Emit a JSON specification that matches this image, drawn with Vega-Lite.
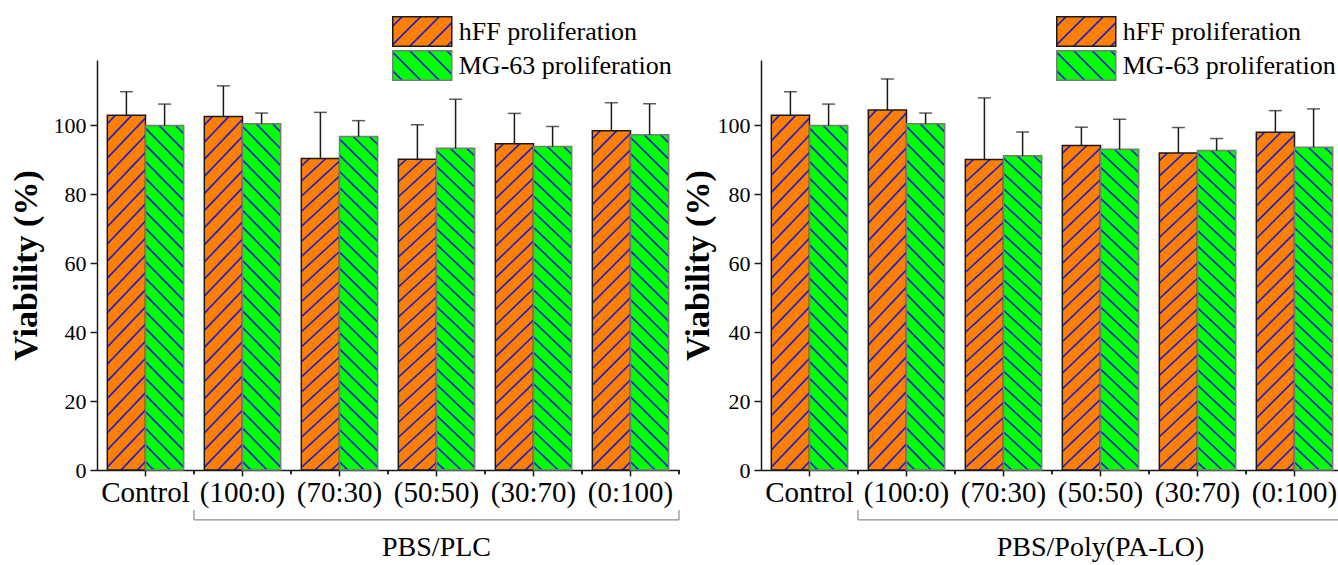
{
  "$schema": "https://vega.github.io/schema/vega-lite/v6.json",
  "padding": {"left": 9, "top": 16, "right": 0, "bottom": 0},
  "params": [
    {"name": "gH", "value": {"gradient": "linear", "x1": 0, "y1": 0, "x2": 0.124, "y2": 1.099, "stops": [
      {"offset": 0, "color": "#ff8000"},
      {"offset": 0.0167, "color": "#ff8000"}, {"offset": 0.0202, "color": "#2222cc"}, {"offset": 0.0232, "color": "#2222cc"}, {"offset": 0.0267, "color": "#ff8000"},
      {"offset": 0.0602, "color": "#ff8000"}, {"offset": 0.0637, "color": "#2222cc"}, {"offset": 0.0667, "color": "#2222cc"}, {"offset": 0.0702, "color": "#ff8000"},
      {"offset": 0.1037, "color": "#ff8000"}, {"offset": 0.1072, "color": "#2222cc"}, {"offset": 0.1102, "color": "#2222cc"}, {"offset": 0.1137, "color": "#ff8000"},
      {"offset": 0.1472, "color": "#ff8000"}, {"offset": 0.1507, "color": "#2222cc"}, {"offset": 0.1537, "color": "#2222cc"}, {"offset": 0.1572, "color": "#ff8000"},
      {"offset": 0.1907, "color": "#ff8000"}, {"offset": 0.1942, "color": "#2222cc"}, {"offset": 0.1972, "color": "#2222cc"}, {"offset": 0.2007, "color": "#ff8000"},
      {"offset": 0.2341, "color": "#ff8000"}, {"offset": 0.2376, "color": "#2222cc"}, {"offset": 0.2406, "color": "#2222cc"}, {"offset": 0.2441, "color": "#ff8000"},
      {"offset": 0.2776, "color": "#ff8000"}, {"offset": 0.2811, "color": "#2222cc"}, {"offset": 0.2841, "color": "#2222cc"}, {"offset": 0.2876, "color": "#ff8000"},
      {"offset": 0.3211, "color": "#ff8000"}, {"offset": 0.3246, "color": "#2222cc"}, {"offset": 0.3276, "color": "#2222cc"}, {"offset": 0.3311, "color": "#ff8000"},
      {"offset": 0.3646, "color": "#ff8000"}, {"offset": 0.3681, "color": "#2222cc"}, {"offset": 0.3711, "color": "#2222cc"}, {"offset": 0.3746, "color": "#ff8000"},
      {"offset": 0.4080, "color": "#ff8000"}, {"offset": 0.4115, "color": "#2222cc"}, {"offset": 0.4145, "color": "#2222cc"}, {"offset": 0.4180, "color": "#ff8000"},
      {"offset": 0.4515, "color": "#ff8000"}, {"offset": 0.4550, "color": "#2222cc"}, {"offset": 0.4580, "color": "#2222cc"}, {"offset": 0.4615, "color": "#ff8000"},
      {"offset": 0.4950, "color": "#ff8000"}, {"offset": 0.4985, "color": "#2222cc"}, {"offset": 0.5015, "color": "#2222cc"}, {"offset": 0.5050, "color": "#ff8000"},
      {"offset": 0.5385, "color": "#ff8000"}, {"offset": 0.5420, "color": "#2222cc"}, {"offset": 0.5450, "color": "#2222cc"}, {"offset": 0.5485, "color": "#ff8000"},
      {"offset": 0.5820, "color": "#ff8000"}, {"offset": 0.5855, "color": "#2222cc"}, {"offset": 0.5885, "color": "#2222cc"}, {"offset": 0.5920, "color": "#ff8000"},
      {"offset": 0.6254, "color": "#ff8000"}, {"offset": 0.6289, "color": "#2222cc"}, {"offset": 0.6319, "color": "#2222cc"}, {"offset": 0.6354, "color": "#ff8000"},
      {"offset": 0.6689, "color": "#ff8000"}, {"offset": 0.6724, "color": "#2222cc"}, {"offset": 0.6754, "color": "#2222cc"}, {"offset": 0.6789, "color": "#ff8000"},
      {"offset": 0.7124, "color": "#ff8000"}, {"offset": 0.7159, "color": "#2222cc"}, {"offset": 0.7189, "color": "#2222cc"}, {"offset": 0.7224, "color": "#ff8000"},
      {"offset": 0.7559, "color": "#ff8000"}, {"offset": 0.7594, "color": "#2222cc"}, {"offset": 0.7624, "color": "#2222cc"}, {"offset": 0.7659, "color": "#ff8000"},
      {"offset": 0.7993, "color": "#ff8000"}, {"offset": 0.8028, "color": "#2222cc"}, {"offset": 0.8058, "color": "#2222cc"}, {"offset": 0.8093, "color": "#ff8000"},
      {"offset": 0.8428, "color": "#ff8000"}, {"offset": 0.8463, "color": "#2222cc"}, {"offset": 0.8493, "color": "#2222cc"}, {"offset": 0.8528, "color": "#ff8000"},
      {"offset": 0.8863, "color": "#ff8000"}, {"offset": 0.8898, "color": "#2222cc"}, {"offset": 0.8928, "color": "#2222cc"}, {"offset": 0.8963, "color": "#ff8000"},
      {"offset": 0.9298, "color": "#ff8000"}, {"offset": 0.9333, "color": "#2222cc"}, {"offset": 0.9363, "color": "#2222cc"}, {"offset": 0.9398, "color": "#ff8000"},
      {"offset": 0.9733, "color": "#ff8000"}, {"offset": 0.9768, "color": "#2222cc"}, {"offset": 0.9798, "color": "#2222cc"}, {"offset": 0.9833, "color": "#ff8000"},
      {"offset": 1, "color": "#ff8000"}
    ]}},
    {"name": "gM", "value": {"gradient": "linear", "x1": 0, "y1": 1, "x2": 0.124, "y2": -0.099, "stops": [
      {"offset": 0, "color": "#00ff00"},
      {"offset": 0.0167, "color": "#00ff00"}, {"offset": 0.0202, "color": "#2222cc"}, {"offset": 0.0232, "color": "#2222cc"}, {"offset": 0.0267, "color": "#00ff00"},
      {"offset": 0.0602, "color": "#00ff00"}, {"offset": 0.0637, "color": "#2222cc"}, {"offset": 0.0667, "color": "#2222cc"}, {"offset": 0.0702, "color": "#00ff00"},
      {"offset": 0.1037, "color": "#00ff00"}, {"offset": 0.1072, "color": "#2222cc"}, {"offset": 0.1102, "color": "#2222cc"}, {"offset": 0.1137, "color": "#00ff00"},
      {"offset": 0.1472, "color": "#00ff00"}, {"offset": 0.1507, "color": "#2222cc"}, {"offset": 0.1537, "color": "#2222cc"}, {"offset": 0.1572, "color": "#00ff00"},
      {"offset": 0.1907, "color": "#00ff00"}, {"offset": 0.1942, "color": "#2222cc"}, {"offset": 0.1972, "color": "#2222cc"}, {"offset": 0.2007, "color": "#00ff00"},
      {"offset": 0.2341, "color": "#00ff00"}, {"offset": 0.2376, "color": "#2222cc"}, {"offset": 0.2406, "color": "#2222cc"}, {"offset": 0.2441, "color": "#00ff00"},
      {"offset": 0.2776, "color": "#00ff00"}, {"offset": 0.2811, "color": "#2222cc"}, {"offset": 0.2841, "color": "#2222cc"}, {"offset": 0.2876, "color": "#00ff00"},
      {"offset": 0.3211, "color": "#00ff00"}, {"offset": 0.3246, "color": "#2222cc"}, {"offset": 0.3276, "color": "#2222cc"}, {"offset": 0.3311, "color": "#00ff00"},
      {"offset": 0.3646, "color": "#00ff00"}, {"offset": 0.3681, "color": "#2222cc"}, {"offset": 0.3711, "color": "#2222cc"}, {"offset": 0.3746, "color": "#00ff00"},
      {"offset": 0.4080, "color": "#00ff00"}, {"offset": 0.4115, "color": "#2222cc"}, {"offset": 0.4145, "color": "#2222cc"}, {"offset": 0.4180, "color": "#00ff00"},
      {"offset": 0.4515, "color": "#00ff00"}, {"offset": 0.4550, "color": "#2222cc"}, {"offset": 0.4580, "color": "#2222cc"}, {"offset": 0.4615, "color": "#00ff00"},
      {"offset": 0.4950, "color": "#00ff00"}, {"offset": 0.4985, "color": "#2222cc"}, {"offset": 0.5015, "color": "#2222cc"}, {"offset": 0.5050, "color": "#00ff00"},
      {"offset": 0.5385, "color": "#00ff00"}, {"offset": 0.5420, "color": "#2222cc"}, {"offset": 0.5450, "color": "#2222cc"}, {"offset": 0.5485, "color": "#00ff00"},
      {"offset": 0.5820, "color": "#00ff00"}, {"offset": 0.5855, "color": "#2222cc"}, {"offset": 0.5885, "color": "#2222cc"}, {"offset": 0.5920, "color": "#00ff00"},
      {"offset": 0.6254, "color": "#00ff00"}, {"offset": 0.6289, "color": "#2222cc"}, {"offset": 0.6319, "color": "#2222cc"}, {"offset": 0.6354, "color": "#00ff00"},
      {"offset": 0.6689, "color": "#00ff00"}, {"offset": 0.6724, "color": "#2222cc"}, {"offset": 0.6754, "color": "#2222cc"}, {"offset": 0.6789, "color": "#00ff00"},
      {"offset": 0.7124, "color": "#00ff00"}, {"offset": 0.7159, "color": "#2222cc"}, {"offset": 0.7189, "color": "#2222cc"}, {"offset": 0.7224, "color": "#00ff00"},
      {"offset": 0.7559, "color": "#00ff00"}, {"offset": 0.7594, "color": "#2222cc"}, {"offset": 0.7624, "color": "#2222cc"}, {"offset": 0.7659, "color": "#00ff00"},
      {"offset": 0.7993, "color": "#00ff00"}, {"offset": 0.8028, "color": "#2222cc"}, {"offset": 0.8058, "color": "#2222cc"}, {"offset": 0.8093, "color": "#00ff00"},
      {"offset": 0.8428, "color": "#00ff00"}, {"offset": 0.8463, "color": "#2222cc"}, {"offset": 0.8493, "color": "#2222cc"}, {"offset": 0.8528, "color": "#00ff00"},
      {"offset": 0.8863, "color": "#00ff00"}, {"offset": 0.8898, "color": "#2222cc"}, {"offset": 0.8928, "color": "#2222cc"}, {"offset": 0.8963, "color": "#00ff00"},
      {"offset": 0.9298, "color": "#00ff00"}, {"offset": 0.9333, "color": "#2222cc"}, {"offset": 0.9363, "color": "#2222cc"}, {"offset": 0.9398, "color": "#00ff00"},
      {"offset": 0.9733, "color": "#00ff00"}, {"offset": 0.9768, "color": "#2222cc"}, {"offset": 0.9798, "color": "#2222cc"}, {"offset": 0.9833, "color": "#00ff00"},
      {"offset": 1, "color": "#00ff00"}
    ]}},
    {"name": "gLH", "value": {"gradient": "linear", "x1": 0, "y1": 0, "x2": 1.2, "y2": 0.6, "stops": [
      {"offset": 0, "color": "#ff8000"},
      {"offset": 0.085, "color": "#ff8000"}, {"offset": 0.097, "color": "#2222cc"}, {"offset": 0.113, "color": "#2222cc"}, {"offset": 0.125, "color": "#ff8000"},
      {"offset": 0.295, "color": "#ff8000"}, {"offset": 0.307, "color": "#2222cc"}, {"offset": 0.323, "color": "#2222cc"}, {"offset": 0.335, "color": "#ff8000"},
      {"offset": 0.505, "color": "#ff8000"}, {"offset": 0.517, "color": "#2222cc"}, {"offset": 0.533, "color": "#2222cc"}, {"offset": 0.545, "color": "#ff8000"},
      {"offset": 0.715, "color": "#ff8000"}, {"offset": 0.727, "color": "#2222cc"}, {"offset": 0.743, "color": "#2222cc"}, {"offset": 0.755, "color": "#ff8000"},
      {"offset": 0.925, "color": "#ff8000"}, {"offset": 0.937, "color": "#2222cc"}, {"offset": 0.953, "color": "#2222cc"}, {"offset": 0.965, "color": "#ff8000"},
      {"offset": 1, "color": "#ff8000"}
    ]}},
    {"name": "gLM", "value": {"gradient": "linear", "x1": 0, "y1": 1, "x2": 1.2, "y2": 0.4, "stops": [
      {"offset": 0, "color": "#00ff00"},
      {"offset": 0.085, "color": "#00ff00"}, {"offset": 0.097, "color": "#2222cc"}, {"offset": 0.113, "color": "#2222cc"}, {"offset": 0.125, "color": "#00ff00"},
      {"offset": 0.295, "color": "#00ff00"}, {"offset": 0.307, "color": "#2222cc"}, {"offset": 0.323, "color": "#2222cc"}, {"offset": 0.335, "color": "#00ff00"},
      {"offset": 0.505, "color": "#00ff00"}, {"offset": 0.517, "color": "#2222cc"}, {"offset": 0.533, "color": "#2222cc"}, {"offset": 0.545, "color": "#00ff00"},
      {"offset": 0.715, "color": "#00ff00"}, {"offset": 0.727, "color": "#2222cc"}, {"offset": 0.743, "color": "#2222cc"}, {"offset": 0.755, "color": "#00ff00"},
      {"offset": 0.925, "color": "#00ff00"}, {"offset": 0.937, "color": "#2222cc"}, {"offset": 0.953, "color": "#2222cc"}, {"offset": 0.965, "color": "#00ff00"},
      {"offset": 1, "color": "#00ff00"}
    ]}}
  ],
  "datasets": {
    "left": [
      {"group": "Control", "series": "hFF proliferation", "value": 103.0, "upper": 109.8},
      {"group": "Control", "series": "MG-63 proliferation", "value": 100.0, "upper": 106.2},
      {"group": "(100:0)", "series": "hFF proliferation", "value": 102.6, "upper": 111.5},
      {"group": "(100:0)", "series": "MG-63 proliferation", "value": 100.5, "upper": 103.6},
      {"group": "(70:30)", "series": "hFF proliferation", "value": 90.4, "upper": 103.8},
      {"group": "(70:30)", "series": "MG-63 proliferation", "value": 96.8, "upper": 101.4},
      {"group": "(50:50)", "series": "hFF proliferation", "value": 90.2, "upper": 100.2},
      {"group": "(50:50)", "series": "MG-63 proliferation", "value": 93.4, "upper": 107.6},
      {"group": "(30:70)", "series": "hFF proliferation", "value": 94.7, "upper": 103.5},
      {"group": "(30:70)", "series": "MG-63 proliferation", "value": 93.9, "upper": 99.7},
      {"group": "(0:100)", "series": "hFF proliferation", "value": 98.5, "upper": 106.6},
      {"group": "(0:100)", "series": "MG-63 proliferation", "value": 97.3, "upper": 106.3}
    ],
    "right": [
      {"group": "Control", "series": "hFF proliferation", "value": 103.0, "upper": 109.8},
      {"group": "Control", "series": "MG-63 proliferation", "value": 100.0, "upper": 106.2},
      {"group": "(100:0)", "series": "hFF proliferation", "value": 104.5, "upper": 113.5},
      {"group": "(100:0)", "series": "MG-63 proliferation", "value": 100.5, "upper": 103.6},
      {"group": "(70:30)", "series": "hFF proliferation", "value": 90.1, "upper": 108.0},
      {"group": "(70:30)", "series": "MG-63 proliferation", "value": 91.2, "upper": 98.1},
      {"group": "(50:50)", "series": "hFF proliferation", "value": 94.2, "upper": 99.5},
      {"group": "(50:50)", "series": "MG-63 proliferation", "value": 93.1, "upper": 101.8},
      {"group": "(30:70)", "series": "hFF proliferation", "value": 92.0, "upper": 99.4},
      {"group": "(30:70)", "series": "MG-63 proliferation", "value": 92.7, "upper": 96.2},
      {"group": "(0:100)", "series": "hFF proliferation", "value": 98.0, "upper": 104.3},
      {"group": "(0:100)", "series": "MG-63 proliferation", "value": 93.7, "upper": 104.8}
    ]
  },
  "spacing": 1,
  "resolve": {
    "scale": {"x": "independent", "y": "independent", "xOffset": "independent", "stroke": "independent", "fill": "independent"},
    "legend": {"stroke": "independent", "fill": "independent"},
    "axis": {"x": "independent", "y": "independent"}
  },
  "hconcat": [
    {
      "width": 582,
      "height": 410,
      "data": {"name": "left"},
      "encoding": {
        "x": {
          "field": "group", "type": "nominal",
          "scale": {"domain": ["Control", "(100:0)", "(70:30)", "(50:50)", "(30:70)", "(0:100)"], "paddingInner": 0, "paddingOuter": 0},
          "axis": {"title": null, "labelFontSize": 29, "labelAngle": 0, "labelPadding": 2, "tickSize": 6, "labelLimit": 300}
        },
        "xOffset": {"field": "series", "type": "nominal", "scale": {"domain": ["hFF proliferation", "MG-63 proliferation"], "paddingInner": 0, "paddingOuter": 0.27}}
      },
      "layer": [
        {
          "mark": {"type": "square", "size": 20, "opacity": 1},
          "encoding": {
            "y": {"datum": 50},
            "fill": {"field": "series", "type": "nominal", "scale": {"domain": ["hFF proliferation", "MG-63 proliferation"], "range": [{"expr": "gLH"}, {"expr": "gLM"}]},
              "legend": {"title": null, "orient": "none", "legendX": 295, "legendY": -44, "symbolType": "M-2,-1H2V1H-2Z", "symbolSize": 870, "symbolStrokeWidth": 1.5, "symbolOffset": 14.75, "symbolOpacity": 1, "labelFont": "Liberation Serif", "labelFontSize": 26, "labelColor": "#000", "labelOffset": 21, "labelLimit": 500, "rowPadding": -7, "padding": 0}},
            "stroke": {"field": "series", "type": "nominal", "scale": {"domain": ["hFF proliferation", "MG-63 proliferation"], "range": ["#1a1a1a", "#7a7a7a"]},
              "legend": {"title": null, "orient": "none", "legendX": 295, "legendY": -44, "symbolType": "M-2,-1H2V1H-2Z", "symbolSize": 870, "symbolStrokeWidth": 1.5, "symbolOffset": 14.75, "symbolOpacity": 1, "labelFont": "Liberation Serif", "labelFontSize": 26, "labelColor": "#000", "labelOffset": 21, "labelLimit": 500, "rowPadding": -7, "padding": 0}}
          }
        },
        {
          "transform": [{"filter": "datum.series === 'hFF proliferation'"}],
          "mark": {"type": "bar", "fill": {"expr": "gH"}, "stroke": "#1a1a1a", "strokeWidth": 1.5},
          "encoding": {
            "y": {"field": "value", "type": "quantitative", "title": "Viability (%)", "scale": {"domain": [0, 119], "nice": false},
              "axis": {"titleFontSize": 34, "titleFontWeight": "bold", "titlePadding": 10, "values": [0, 10, 20, 30, 40, 50, 60, 70, 80, 90, 100, 110], "labelExpr": "datum.value % 20 === 0 ? datum.label : ''", "labelFontSize": 22, "labelPadding": 4, "tickSize": {"condition": {"test": "datum.value % 20 === 0", "value": 7}, "value": 4}}}
          }
        },
        {
          "transform": [{"filter": "datum.series === 'MG-63 proliferation'"}],
          "mark": {"type": "bar", "fill": {"expr": "gM"}, "stroke": "#7a7a7a", "strokeWidth": 1.5},
          "encoding": {"y": {"field": "value", "type": "quantitative", "title": "Viability (%)"}}
        },
        {
          "mark": {"type": "rule", "color": "#1a1a1a", "strokeWidth": 1.5},
          "encoding": {
            "y": {"field": "value", "type": "quantitative", "title": "Viability (%)"},
            "y2": {"field": "upper"}
          }
        },
        {
          "mark": {"type": "tick", "color": "#1a1a1a", "thickness": 1.5, "size": 13, "orient": "horizontal"},
          "encoding": {
            "y": {"field": "upper", "type": "quantitative", "title": "Viability (%)"}
          }
        },
        {
          "mark": {"type": "rule", "color": "#1a1a1a", "strokeWidth": 1.5},
          "encoding": {
            "x": {"field": "group", "type": "nominal", "bandPosition": 1},
            "xOffset": null,
            "y": {"datum": 0},
            "y2": {"datum": -1.2}
          }
        },
        {
          "data": {"values": [{}]},
          "mark": {"type": "rule", "color": "#8c8c8c", "strokeWidth": 1.2},
          "encoding": {
            "x": {"datum": "(100:0)", "type": "nominal", "bandPosition": 0},
            "xOffset": null,
            "x2": {"value": "width"},
            "y": {"datum": -14.5}
          }
        },
        {
          "data": {"values": [{}]},
          "mark": {"type": "rule", "color": "#8c8c8c", "strokeWidth": 1.2},
          "encoding": {
            "x": {"datum": "(100:0)", "type": "nominal", "bandPosition": 0},
            "xOffset": null,
            "y": {"datum": -14.5},
            "y2": {"datum": -11.6}
          }
        },
        {
          "data": {"values": [{}]},
          "mark": {"type": "rule", "color": "#8c8c8c", "strokeWidth": 1.2},
          "encoding": {
            "x": {"value": "width"},
            "xOffset": null,
            "y": {"datum": -14.5},
            "y2": {"datum": -11.6}
          }
        },
        {
          "data": {"values": [{}]},
          "mark": {"type": "text", "font": "Liberation Serif", "fontSize": 28, "color": "#000"},
          "encoding": {
            "x": {"datum": "(50:50)", "type": "nominal"},
            "xOffset": null,
            "y": {"datum": -22.5},
            "text": {"value": "PBS/PLC"}
          }
        }
      ]
    },
    {
      "width": 582,
      "height": 410,
      "data": {"name": "right"},
      "encoding": {
        "x": {
          "field": "group", "type": "nominal",
          "scale": {"domain": ["Control", "(100:0)", "(70:30)", "(50:50)", "(30:70)", "(0:100)"], "paddingInner": 0, "paddingOuter": 0},
          "axis": {"title": null, "labelFontSize": 29, "labelAngle": 0, "labelPadding": 2, "tickSize": 6, "labelLimit": 300}
        },
        "xOffset": {"field": "series", "type": "nominal", "scale": {"domain": ["hFF proliferation", "MG-63 proliferation"], "paddingInner": 0, "paddingOuter": 0.27}}
      },
      "layer": [
        {
          "mark": {"type": "square", "size": 20, "opacity": 1},
          "encoding": {
            "y": {"datum": 50},
            "fill": {"field": "series", "type": "nominal", "scale": {"domain": ["hFF proliferation", "MG-63 proliferation"], "range": [{"expr": "gLH"}, {"expr": "gLM"}]},
              "legend": {"title": null, "orient": "none", "legendX": 295, "legendY": -44, "symbolType": "M-2,-1H2V1H-2Z", "symbolSize": 870, "symbolStrokeWidth": 1.5, "symbolOffset": 14.75, "symbolOpacity": 1, "labelFont": "Liberation Serif", "labelFontSize": 26, "labelColor": "#000", "labelOffset": 21, "labelLimit": 500, "rowPadding": -7, "padding": 0}},
            "stroke": {"field": "series", "type": "nominal", "scale": {"domain": ["hFF proliferation", "MG-63 proliferation"], "range": ["#1a1a1a", "#7a7a7a"]},
              "legend": {"title": null, "orient": "none", "legendX": 295, "legendY": -44, "symbolType": "M-2,-1H2V1H-2Z", "symbolSize": 870, "symbolStrokeWidth": 1.5, "symbolOffset": 14.75, "symbolOpacity": 1, "labelFont": "Liberation Serif", "labelFontSize": 26, "labelColor": "#000", "labelOffset": 21, "labelLimit": 500, "rowPadding": -7, "padding": 0}}
          }
        },
        {
          "transform": [{"filter": "datum.series === 'hFF proliferation'"}],
          "mark": {"type": "bar", "fill": {"expr": "gH"}, "stroke": "#1a1a1a", "strokeWidth": 1.5},
          "encoding": {
            "y": {"field": "value", "type": "quantitative", "title": "Viability (%)", "scale": {"domain": [0, 119], "nice": false},
              "axis": {"titleFontSize": 34, "titleFontWeight": "bold", "titlePadding": 2, "values": [0, 10, 20, 30, 40, 50, 60, 70, 80, 90, 100, 110], "labelExpr": "datum.value % 20 === 0 ? datum.label : ''", "labelFontSize": 22, "labelPadding": 4, "tickSize": {"condition": {"test": "datum.value % 20 === 0", "value": 7}, "value": 4}}}
          }
        },
        {
          "transform": [{"filter": "datum.series === 'MG-63 proliferation'"}],
          "mark": {"type": "bar", "fill": {"expr": "gM"}, "stroke": "#7a7a7a", "strokeWidth": 1.5},
          "encoding": {"y": {"field": "value", "type": "quantitative", "title": "Viability (%)"}}
        },
        {
          "mark": {"type": "rule", "color": "#1a1a1a", "strokeWidth": 1.5},
          "encoding": {
            "y": {"field": "value", "type": "quantitative", "title": "Viability (%)"},
            "y2": {"field": "upper"}
          }
        },
        {
          "mark": {"type": "tick", "color": "#1a1a1a", "thickness": 1.5, "size": 13, "orient": "horizontal"},
          "encoding": {
            "y": {"field": "upper", "type": "quantitative", "title": "Viability (%)"}
          }
        },
        {
          "mark": {"type": "rule", "color": "#1a1a1a", "strokeWidth": 1.5},
          "encoding": {
            "x": {"field": "group", "type": "nominal", "bandPosition": 1},
            "xOffset": null,
            "y": {"datum": 0},
            "y2": {"datum": -1.2}
          }
        },
        {
          "data": {"values": [{}]},
          "mark": {"type": "rule", "color": "#8c8c8c", "strokeWidth": 1.2},
          "encoding": {
            "x": {"datum": "(100:0)", "type": "nominal", "bandPosition": 0},
            "xOffset": null,
            "x2": {"value": "width"},
            "y": {"datum": -14.5}
          }
        },
        {
          "data": {"values": [{}]},
          "mark": {"type": "rule", "color": "#8c8c8c", "strokeWidth": 1.2},
          "encoding": {
            "x": {"datum": "(100:0)", "type": "nominal", "bandPosition": 0},
            "xOffset": null,
            "y": {"datum": -14.5},
            "y2": {"datum": -11.6}
          }
        },
        {
          "data": {"values": [{}]},
          "mark": {"type": "rule", "color": "#8c8c8c", "strokeWidth": 1.2},
          "encoding": {
            "x": {"value": "width"},
            "xOffset": null,
            "y": {"datum": -14.5},
            "y2": {"datum": -11.6}
          }
        },
        {
          "data": {"values": [{}]},
          "mark": {"type": "text", "font": "Liberation Serif", "fontSize": 28, "color": "#000"},
          "encoding": {
            "x": {"datum": "(50:50)", "type": "nominal"},
            "xOffset": null,
            "y": {"datum": -22.5},
            "text": {"value": "PBS/Poly(PA-LO)"}
          }
        }
      ]
    }
  ],
  "config": {
    "view": {"stroke": null},
    "font": "Liberation Serif",
    "axis": {"labelFont": "Liberation Serif", "titleFont": "Liberation Serif", "labelColor": "#000", "titleColor": "#000", "tickColor": "#1a1a1a", "domainColor": "#1a1a1a", "tickWidth": 1.5, "domainWidth": 1.5, "grid": false}
  }
}
